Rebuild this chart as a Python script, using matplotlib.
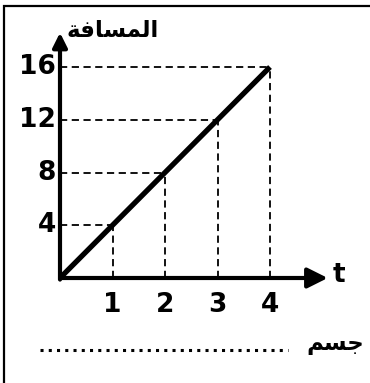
import matplotlib.pyplot as plt
from matplotlib.patches import Rectangle
from matplotlib.lines import Line2D

# data
t_vals = [0, 1, 2, 3, 4]
dist_vals = [0, 4, 8, 12, 16]
x_labels = ['1', '2', '3', '4']
y_labels = ['4', '8', '12', '16']

# arabic written in presentation forms, visual order (no shaping in mpl)
title_txt = '\uFE94\uFED3\uFE8E\uFEB4\uFEE4\uFEDF\uFE8D'   # المسافة
body_txt = '\uFEE2\uFEB4\uFE9F'                              # جسم

W, H = 370, 383
fig = plt.figure(figsize=(W / 100, H / 100), dpi=100)
fig.patch.set_facecolor('white')

# pixel layout of the drawing
ox, oy = 60, 278
sx = (270 - 60) / 4.0
sy = (278 - 67) / 16.0

ax = fig.add_axes([0, 0, 1, 1])
ax.set_xlim(-ox / sx, (W - ox) / sx)
ax.set_ylim(-(H - oy) / sy, oy / sy)
ax.axis('off')

# frame (only top + left visible)
fig.add_artist(Rectangle((4 / W, -0.1), 1.2, 1.1 - 6 / H, transform=fig.transFigure,
                         fill=False, lw=1.6, ec='black'))

# guide lines
for t, d in zip(t_vals[1:], dist_vals[1:]):
    ax.plot([0, t], [d, d], color='black', lw=1.3, ls=(0, (4, 2.5)), dash_capstyle='butt')
    ax.plot([t, t], [0, d], color='black', lw=1.3, ls=(0, (4, 2.5)), dash_capstyle='butt')

# axes with arrows
ax.annotate('', xy=(5.1, 0), xytext=(0, 0),
            arrowprops=dict(arrowstyle='-|>,head_length=1.22,head_width=0.61', mutation_scale=10,
                            lw=3, color='black', shrinkA=0, shrinkB=0))
ax.annotate('', xy=(0, 18.6), xytext=(0, -0.12),
            arrowprops=dict(arrowstyle='-|>,head_length=0.86,head_width=0.43', mutation_scale=10,
                            lw=3, color='black', shrinkA=0, shrinkB=0))

# the line
ax.plot(t_vals, dist_vals, color='black', lw=3.8, solid_capstyle='butt')

fs = 19
for t, lab in zip(t_vals[1:], x_labels):
    ax.text(t, -2.05, lab, ha='center', va='center', fontsize=fs, fontweight='bold',
            family='DejaVu Sans')
for d, lab in zip(dist_vals[1:], y_labels):
    ax.text(-0.08, d, lab, ha='right', va='center', fontsize=fs, fontweight='bold',
            family='DejaVu Sans')

ax.text(5.2, 0.25, 't', ha='left', va='center', fontsize=fs, fontweight='bold',
        family='DejaVu Sans')
ax.text(1.0, 18.75, title_txt, ha='center', va='center', fontsize=16.5, fontweight='bold',
        family='DejaVu Sans')
ax.text(5.25, -4.95, body_txt, ha='center', va='center', fontsize=16.5, fontweight='bold',
        family='DejaVu Sans')

# dotted blank line
fig.add_artist(Line2D([40 / W, 288 / W], [1 - 350 / H, 1 - 350 / H], transform=fig.transFigure,
                      color='black', lw=2.2, ls=(0, (1, 1.7)), dash_capstyle='butt'))

fig.savefig('out.png', dpi=100)
